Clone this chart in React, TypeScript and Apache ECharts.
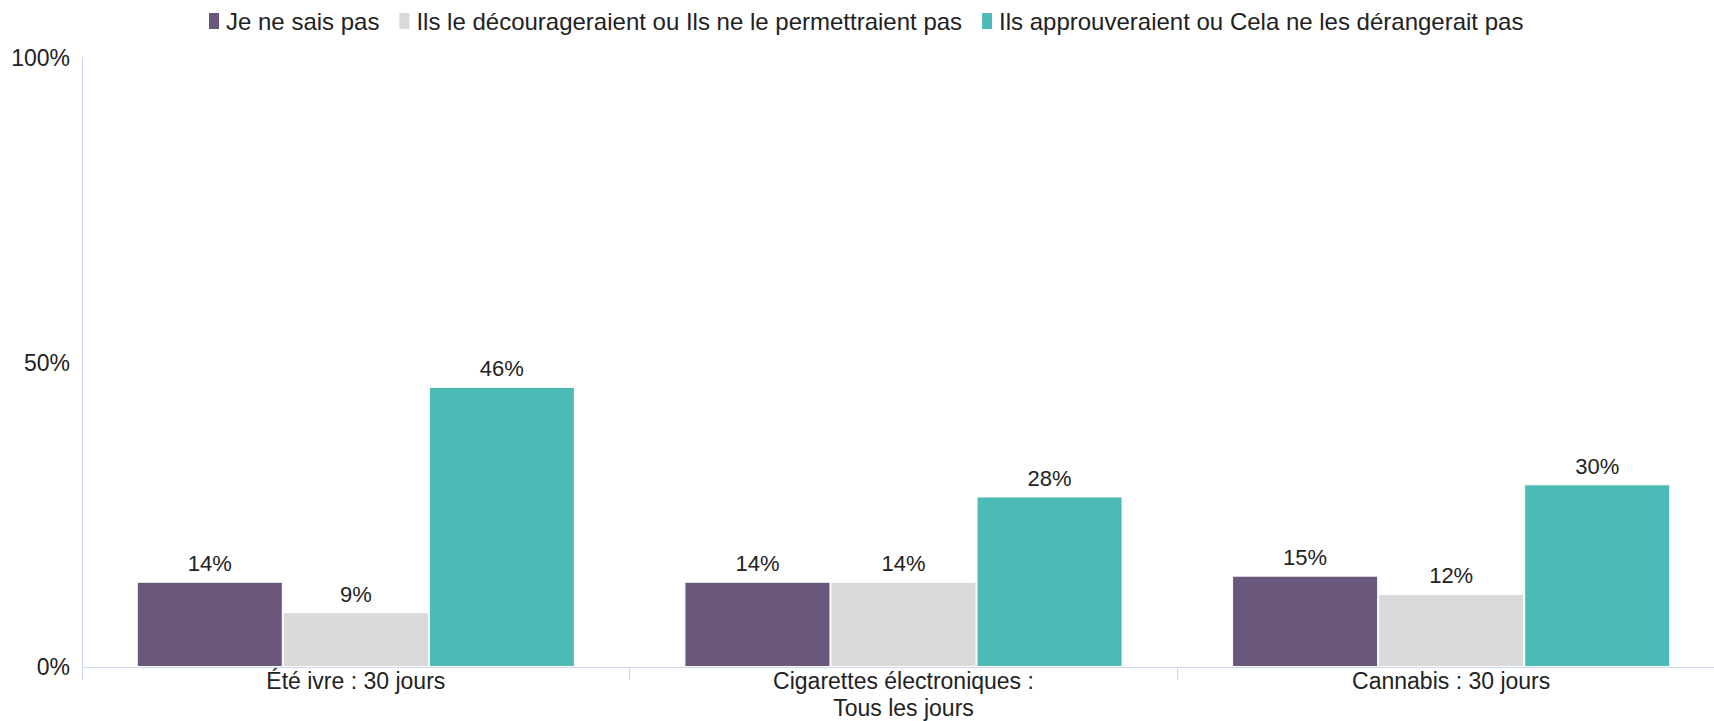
import React, { useEffect, useRef } from "react";
import * as echarts from "echarts";

const categories = ["Été ivre : 30 jours", "Cigarettes électroniques :\nTous les jours", "Cannabis : 30 jours"];
const seriesNames = [
  "Je ne sais pas",
  "Ils le décourageraient ou Ils ne le permettraient pas",
  "Ils approuveraient ou Cela ne les dérangerait pas",
];
const dontKnow = [14, 14, 15];
const discourage = [9, 14, 12];
const approve = [46, 28, 30];
const colors = ["#6a587c", "#d9d9d9", "#4cbbb5"];

const FONT = "'Liberation Sans', Arial, Helvetica, sans-serif";

export default function App() {
  const ref = useRef<HTMLDivElement>(null);
  useEffect(() => {
    if (!ref.current) return;
    const chart = echarts.init(ref.current, null, { renderer: "svg" });
    const values = [dontKnow, discourage, approve];
    chart.setOption({
      animation: false,
      textStyle: { fontFamily: FONT },
      legend: {
        top: 4,
        left: 202,
        itemWidth: 12,
        itemHeight: 18,
        itemGap: 18,
        icon: "rect",
        textStyle: { fontSize: 24, color: "#222", fontFamily: FONT, padding: [0, 0, 0, 1] },
        data: seriesNames,
      },
      grid: { left: 82, right: 1, top: 58, bottom: 54, containLabel: false },
      xAxis: {
        type: "category",
        data: categories,
        axisLine: { lineStyle: { color: "#ccd6eb", width: 1 } },
        axisTick: { show: true, length: 13, lineStyle: { color: "#ccd6eb" } },
        axisLabel: {
          fontSize: 23,
          color: "#222",
          fontFamily: FONT,
          margin: 0,
          lineHeight: 27,
          interval: 0,
        },
      },
      yAxis: {
        type: "value",
        min: 0,
        max: 100,
        interval: 50,
        axisLine: { show: true, lineStyle: { color: "#ccd6eb", width: 1 } },
        axisTick: { show: false },
        splitLine: { show: false },
        axisLabel: {
          formatter: "{value}%",
          fontSize: 23,
          color: "#222",
          fontFamily: FONT,
          margin: 12,
        },
      },
      series: seriesNames.map((name, i) => ({
        name,
        type: "bar",
        data: values[i],
        barGap: "0%",
        barCategoryGap: "20%",
        itemStyle: { color: colors[i], borderColor: "#ffffff", borderWidth: 1 },
        label: {
          show: true,
          position: "top",
          distance: 7,
          formatter: "{c}%",
          fontSize: 22,
          color: "#222",
          fontFamily: FONT,
        },
      })),
    });
    return () => chart.dispose();
  }, []);
  return (
    <div style={{ position: "fixed", left: 0, top: 0, width: 1714, height: 721, overflow: "hidden", background: "#fff" }}>
      <div ref={ref} style={{ position: "absolute", left: 0, top: 0, width: 1726, height: 721 }} />
    </div>
  );
}
